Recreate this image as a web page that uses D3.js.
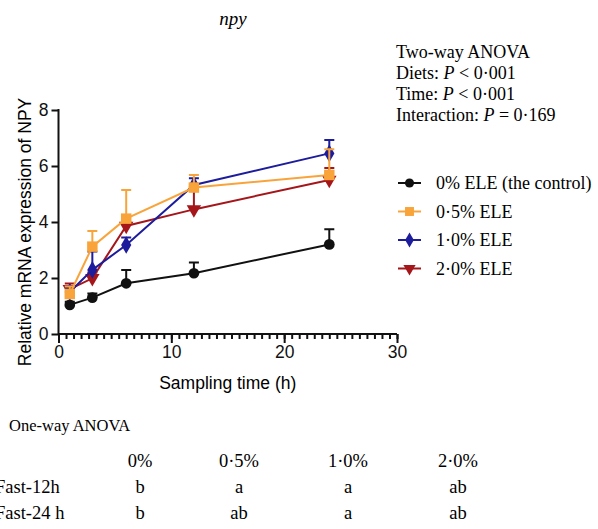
<!DOCTYPE html>
<html>
<head>
<meta charset="utf-8">
<script src="https://cdn.jsdelivr.net/npm/d3@7"></script>
<style>
    body { margin: 0; background: white; }
    svg { display: block; }
    .sans { font-family: "Liberation Sans", Arial, sans-serif; }
    .serif { font-family: "Liberation Serif", "Times New Roman", serif; }
</style>
</head>
<body>
<svg id="chart" width="598" height="529"></svg>
<script>
    // sampling times (h)
    const times = [1, 3, 6, 12, 24];

    // series names, colours, symbols
    const seriesNames = ["0% ELE (the control)", "0·5% ELE", "1·0% ELE", "2·0% ELE"];
    const seriesColors = ["#111111", "#F9A43A", "#1C1C9C", "#A5161B"];
    const seriesSymbols = [d3.symbolCircle, d3.symbolSquare, d3.symbolDiamond, d3.symbolTriangle];

    // means and upper error (mean + SE)
    const control = [1.04, 1.30, 1.81, 2.17, 3.20];
    const controlErr = [1.15, 1.45, 2.29, 2.55, 3.74];
    const ele05 = [1.43, 3.12, 4.12, 5.23, 5.68];
    const ele05Err = [1.70, 3.68, 5.14, 5.68, 6.60];
    const ele10 = [1.50, 2.29, 3.18, 5.32, 6.45];
    const ele10Err = [1.65, 2.95, 3.45, 5.56, 6.93];
    const ele20 = [1.60, 1.99, 3.86, 4.45, 5.50];
    const ele20Err = [1.80, 2.20, 4.00, 5.25, 5.93];

    const xTicks = [0, 10, 20, 30];
    const yTicks = [0, 2, 4, 6, 8];

    const anovaLines = ["Two-way ANOVA", "Diets: |P| < 0·001", "Time: |P| < 0·001", "Interaction: |P| = 0·169"];
    const tableCols = ["0%", "0·5%", "1·0%", "2·0%"];
    const tableRows = ["Fast-12h", "Fast-24 h"];
    const tableLetters = [["b", "a", "a", "ab"], ["b", "ab", "a", "ab"]];

    const svg = d3.select("#chart");
    const x = d3.scaleLinear().domain([0, 30]).range([58.5, 397]);
    const y = d3.scaleLinear().domain([0, 8]).range([334, 110]);

    // title
    svg.append("text").attr("class", "serif")
        .attr("x", 233).attr("y", 25)
        .attr("text-anchor", "middle")
        .style("font-style", "italic").style("font-size", "19px")
        .text("npy");

    // axes
    const yAxis = d3.axisLeft(y).tickValues(yTicks).tickSize(7).tickPadding(3);
    const gy = svg.append("g").attr("transform", "translate(" + x(0) + ",0)").call(yAxis);

    const minor = d3.range(0, 30.001, 10 / 15);
    const gxm = svg.append("g").attr("transform", "translate(0," + y(0) + ")")
        .call(d3.axisBottom(x).tickValues(minor).tickSize(5).tickFormat(""));
    gxm.select(".domain").remove();
    const gx = svg.append("g").attr("transform", "translate(0," + y(0) + ")")
        .call(d3.axisBottom(x).tickValues(xTicks).tickSize(9).tickPadding(3));

    [gx, gy, gxm].forEach(g => {
        g.selectAll("path, line").attr("stroke", "#111").attr("stroke-width", 2);
        g.selectAll("text").attr("class", "sans").style("font-size", "17.5px").attr("fill", "#111");
    });
    gx.select(".domain").attr("d", "M" + x(0) + ",0H" + x(30));
    gy.select(".domain").attr("d", "M0," + y(0) + "V" + (y(8) - 1));

    svg.append("text").attr("class", "sans")
        .attr("x", x(15)).attr("y", 389)
        .attr("text-anchor", "middle").style("font-size", "17.5px")
        .text("Sampling time (h)");
    svg.append("text").attr("class", "sans")
        .attr("transform", "translate(31,232) rotate(-90)")
        .attr("text-anchor", "middle").style("font-size", "17.5px")
        .text("Relative mRNA expression of NPY");

    // series
    const allMeans = [control, ele05, ele10, ele20];
    const allErr = [controlErr, ele05Err, ele10Err, ele20Err];
    const drawOrder = [0, 3, 2, 1];

    const line = d3.line().x(d => x(d[0])).y(d => y(d[1]));

    drawOrder.forEach(s => {
        const col = seriesColors[s];
        const pts = times.map((t, i) => [t, allMeans[s][i], allErr[s][i]]);
        const g = svg.append("g");
        // error bars (upper only)
        g.selectAll(".err").data(pts).enter().append("path")
            .attr("d", d => "M" + x(d[0]) + "," + y(d[1]) + "V" + y(d[2]) +
                "M" + (x(d[0]) - 5) + "," + y(d[2]) + "H" + (x(d[0]) + 5))
            .attr("stroke", col).attr("stroke-width", 2).attr("fill", "none");
        g.append("path").datum(pts).attr("d", line)
            .attr("stroke", col).attr("stroke-width", 2).attr("fill", "none");
        g.selectAll(".mk").data(pts).enter().append("path")
            .attr("d", d3.symbol().type(seriesSymbols[s]).size(s === 1 ? 110 : 90))
            .attr("transform", d => "translate(" + x(d[0]) + "," + y(d[1]) + ")" + (s === 3 ? " rotate(180)" : ""))
            .attr("fill", col);
    });

    // two-way anova text
    const anova = svg.append("g").attr("class", "serif").style("font-size", "18px");
    anovaLines.forEach((t, i) => {
        const txt = anova.append("text").attr("x", 396).attr("y", 58 + i * 21);
        t.split("|").forEach((part, j) => {
            txt.append("tspan").style("font-style", j % 2 ? "italic" : "normal").text(part);
        });
    });

    // legend
    const legend = svg.append("g");
    seriesNames.forEach((name, i) => {
        const cy = 183 + i * 28.5;
        legend.append("line").attr("x1", 398).attr("x2", 421).attr("y1", cy).attr("y2", cy)
            .attr("stroke", seriesColors[i]).attr("stroke-width", 2);
        legend.append("path")
            .attr("d", d3.symbol().type(seriesSymbols[i]).size(i === 1 ? 80 : 65))
            .attr("transform", "translate(409.5," + cy + ")" + (i === 3 ? " rotate(180)" : ""))
            .attr("fill", seriesColors[i]);
        legend.append("text").attr("class", "serif")
            .attr("x", 436).attr("y", cy + 6).style("font-size", "18px")
            .text(name);
    });

    // one-way anova table
    const colX = [140, 239, 348, 458];
    const table = svg.append("g").attr("class", "serif");
    table.append("text").attr("x", 9).attr("y", 431).style("font-size", "16.5px").text("One-way ANOVA");
    tableCols.forEach((c, j) => {
        table.append("text").attr("x", colX[j]).attr("y", 467).attr("text-anchor", "middle")
            .style("font-size", "18.5px").text(c);
    });
    tableRows.forEach((r, i) => {
        const ry = 493 + i * 26;
        table.append("text").attr("x", -5).attr("y", ry).style("font-size", "18.5px").text(r);
        tableLetters[i].forEach((v, j) => {
            table.append("text").attr("x", colX[j]).attr("y", ry).attr("text-anchor", "middle")
                .style("font-size", "18.5px").text(v);
        });
    });
</script>
</body>
</html>
